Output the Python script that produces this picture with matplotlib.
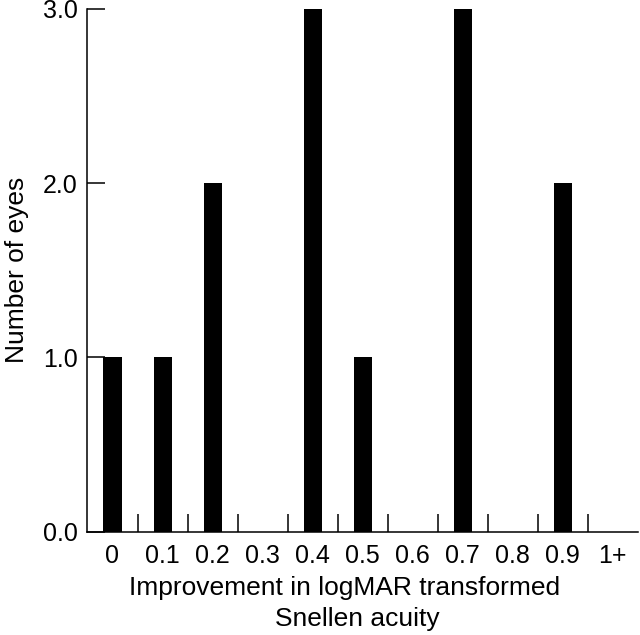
import matplotlib
matplotlib.use("Agg")
import matplotlib.pyplot as plt
import numpy as np

# categories of improvement and number of eyes in each
categories = ['0', '0.1', '0.2', '0.3', '0.4', '0.5', '0.6', '0.7', '0.8', '0.9', '1+']
eyes = [1, 1, 2, 0, 3, 1, 0, 3, 0, 2, 0]
y_ticks = [0.0, 1.0, 2.0, 3.0]
x_title = ['Improvement in logMAR transformed', 'Snellen acuity']

plt.rcParams['font.family'] = ['Liberation Sans', 'DejaVu Sans']

fig = plt.figure(figsize=(6.4, 6.35), dpi=100)
ax = fig.add_axes([0.1367, 0.1627, 0.8597, 0.8233])

x = np.arange(len(categories))
ax.bar(x, eyes, width=0.36, color='black')

ax.set_xlim(-0.5, len(categories) - 0.5)
ax.set_ylim(0, 3.0)

ax.spines['top'].set_visible(False)
ax.spines['right'].set_visible(False)
for side in ('left', 'bottom'):
    ax.spines[side].set_linewidth(1.1)

ax.set_yticks(y_ticks)
ax.set_yticklabels([f'{v:.1f}' for v in y_ticks])
ax.tick_params(axis='y', direction='in', length=13, width=1.1, pad=7, labelsize=18)

ax.set_xticks(x)
ax.set_xticklabels(categories)
ax.set_xticks(x[:-1] + 0.5, minor=True)
ax.tick_params(axis='x', which='major', length=0, pad=9, labelsize=18)
ax.tick_params(axis='x', which='minor', direction='in', length=13, width=1.1)

# the two title lines are not quite centred on each other in the original
fig.text(0.538, 0.074, x_title[0], ha='center', va='center', fontsize=19)
fig.text(0.558, 0.025, x_title[1], ha='center', va='center', fontsize=19)
ax.set_ylabel('Number of eyes', fontsize=19, labelpad=10)

fig.savefig('out.png', dpi=100)
